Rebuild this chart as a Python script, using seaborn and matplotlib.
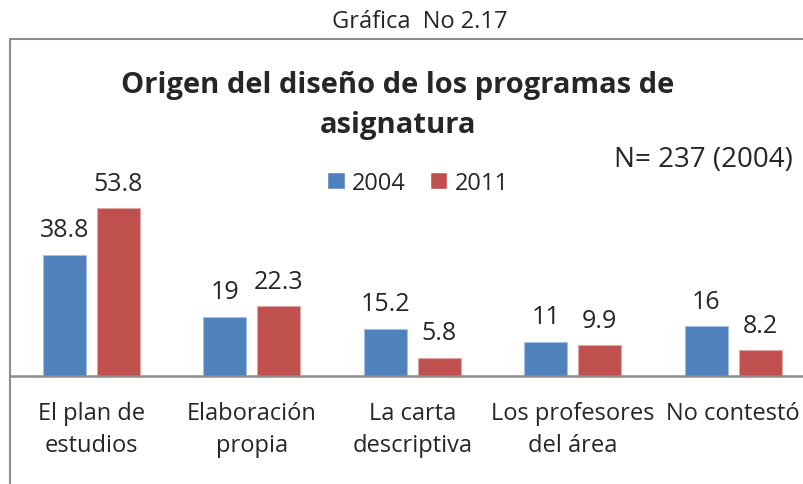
import matplotlib
matplotlib.use("Agg")
import matplotlib.pyplot as plt
from matplotlib.lines import Line2D
import seaborn as sns
import pandas as pd

categories = ["El plan de\nestudios", "Elaboración\npropia", "La carta\ndescriptiva",
              "Los profesores\ndel área", "No contestó"]
years = ["2004", "2011"]
values_2004 = [38.8, 19, 15.2, 11, 16]
values_2011 = [53.8, 22.3, 5.8, 9.9, 8.2]
colors = ["#4F81BD", "#C0504D"]

df = pd.DataFrame({
    "Categoria": categories * 2,
    "Año": [years[0]] * len(categories) + [years[1]] * len(categories),
    "Porcentaje": values_2004 + values_2011,
})

sns.set_style("white")
plt.rcParams["font.family"] = ["Open Sans", "DejaVu Sans"]

W, H = 804, 485
fig = plt.figure(figsize=(W / 100, H / 100), dpi=100)

# axes placed in pixel terms: baseline at y=377, left edge at x=11
px_per_unit = 3.12
ax_left, ax_base = 11, 377
ax_h = 60 * px_per_unit
ax = fig.add_axes([ax_left / W, (H - ax_base) / H, 1 - ax_left / W, ax_h / H])

sns.barplot(data=df, x="Categoria", y="Porcentaje", hue="Año", palette=colors,
            width=0.673, gap=0.2, ax=ax, legend=True, saturation=1)

edge = ["#A7C0DE", "#DFA8A6"]
for cont, ec in zip(ax.containers, edge):
    for bar in cont:
        bar.set_edgecolor(ec)
        bar.set_linewidth(0.8)
    ax.bar_label(cont, fmt="%g", padding=9, fontsize=18)

ax.set_ylim(0, 60)
ax.set_xlim(-0.5, -0.5 + (W - ax_left) / 160.5)
ax.set_xlabel("")
ax.set_ylabel("")
ax.set_yticks([])
for s in ["top", "right", "left"]:
    ax.spines[s].set_visible(False)
ax.spines["bottom"].set_color("#8C8C8C")
ax.spines["bottom"].set_linewidth(1.8)
ax.tick_params(axis="x", length=0, pad=18, labelsize=17)
for lbl in ax.get_xticklabels():
    lbl.set_linespacing(1.42)
    lbl.set_verticalalignment("top")

handles, labels = ax.get_legend_handles_labels()
ax.legend(handles, labels, loc="center", bbox_to_anchor=(418 / W, 1 - 184 / H),
          bbox_transform=fig.transFigure, ncol=2, frameon=False, fontsize=17,
          handlelength=0.75, handleheight=0.75, handletextpad=0.3, columnspacing=1.0)

# outer frame lines
fig.add_artist(Line2D([10 / W, 1], [1 - 40 / H, 1 - 40 / H], transform=fig.transFigure,
                      color="#8C8C8C", lw=1.5))
fig.add_artist(Line2D([10 / W, 10 / W], [0, 1 - 40 / H], transform=fig.transFigure,
                      color="#8C8C8C", lw=1.5))

fig.text(420 / W, 1 - 22 / H, "Gráfica  No 2.17", ha="center", va="center", fontsize=17)
fig.text(398 / W, 1 - 105 / H, "Origen del diseño de los programas de\nasignatura",
         ha="center", va="center", fontsize=21, fontweight="bold", linespacing=1.5)
fig.text(614 / W, 1 - 160 / H, "N= 237 (2004)", ha="left", va="center", fontsize=20)

fig.savefig("out.png", dpi=100)
plt.close(fig)
